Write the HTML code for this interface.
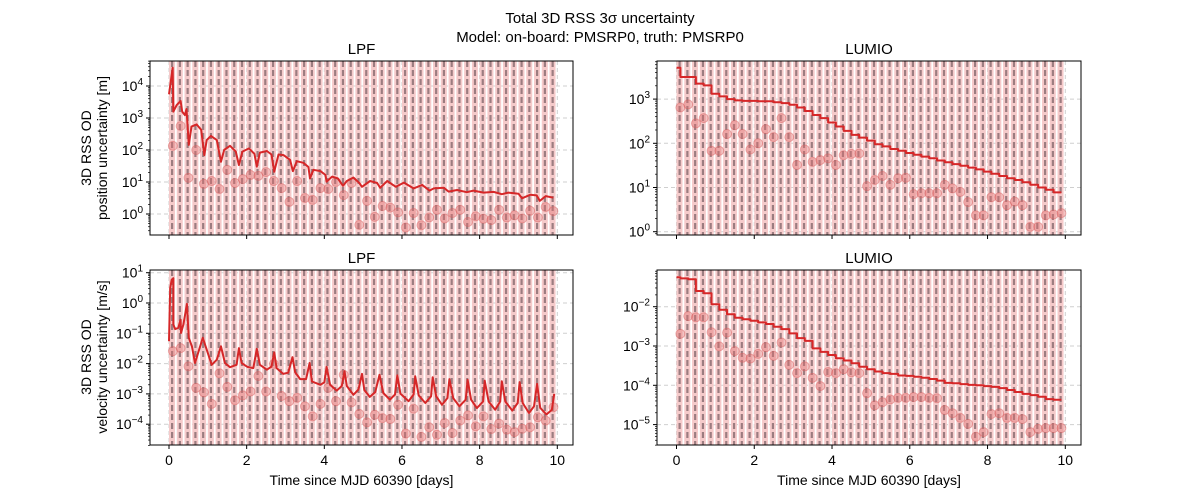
<!DOCTYPE html>
<html><head><meta charset="utf-8">
<style>
body{margin:0;background:#fff;}
svg{display:block;font-family:"Liberation Sans","DejaVu Sans",sans-serif;}
</style></head>
<body>
<svg id="fig" width="1200" height="500" xmlns="http://www.w3.org/2000/svg">
<text x="600" y="23" text-anchor="middle" font-size="15">Total 3D RSS 3σ uncertainty</text>
<text x="600" y="42" text-anchor="middle" font-size="15">Model: on-board: PMSRP0, truth: PMSRP0</text>
</svg>
<script>
// ---- data (log10 values) ----
const dotTimes = [0.1,0.3,0.5,0.7,0.9,1.1,1.3,1.5,1.7,1.9,2.1,2.3,2.5,2.7,2.9,3.1,3.3,3.5,3.7,3.9,4.1,4.3,4.5,4.7,4.9,5.1,5.3,5.5,5.7,5.9,6.1,6.3,6.5,6.7,6.9,7.1,7.3,7.5,7.7,7.9,8.1,8.3,8.5,8.7,8.9,9.1,9.3,9.5,9.7,9.9];
const lpfPosDots = [2.13,2.75,1.13,2.0,0.94,1.03,0.78,1.38,0.97,1.09,1.22,1.19,1.31,1.03,0.81,0.38,1.03,0.5,0.44,0.81,0.78,1.0,0.59,0.97,-0.34,0.41,-0.09,0.25,0.20,0.05,-0.42,0.03,-0.35,-0.11,0.13,-0.14,0.03,0.13,-0.25,-0.07,-0.15,-0.19,0.13,-0.11,-0.04,-0.14,0.10,-0.11,0.22,0.09];
const lumioPosDots = [2.81,2.88,2.45,2.57,1.83,1.83,2.21,2.41,2.21,1.86,2.0,2.32,2.14,2.57,2.14,1.51,1.86,1.58,1.62,1.66,1.51,1.73,1.76,1.77,1.03,1.17,1.26,1.06,1.21,1.22,0.85,0.87,0.87,0.87,1.06,0.98,0.90,0.67,0.37,0.37,0.78,0.78,0.60,0.68,0.60,0.11,0.11,0.37,0.39,0.42];
const lpfVelDots = [-1.59,-1.49,-2.09,-2.80,-2.95,-3.33,-2.32,-2.77,-3.21,-3.05,-2.92,-2.41,-2.92,-2.01,-3.07,-3.24,-3.13,-3.41,-3.74,-3.33,-2.80,-3.24,-2.37,-3.28,-3.66,-3.94,-3.69,-3.80,-3.83,-3.36,-4.31,-3.49,-4.42,-4.10,-4.35,-3.96,-4.29,-3.88,-3.71,-4.07,-3.74,-4.16,-3.98,-4.18,-4.26,-4.15,-4.10,-3.77,-3.88,-3.44];
const lumioVelDots = [-2.69,-2.24,-2.27,-2.27,-2.65,-3.01,-2.66,-3.13,-3.30,-3.32,-3.20,-3.03,-3.25,-2.91,-3.48,-3.69,-3.52,-3.81,-4.02,-3.66,-3.69,-3.59,-3.67,-3.69,-4.20,-4.51,-4.43,-4.36,-4.32,-4.32,-4.30,-4.30,-4.32,-4.33,-4.63,-4.71,-4.83,-4.98,-5.31,-5.19,-4.73,-4.71,-4.83,-4.83,-4.86,-5.19,-5.11,-5.09,-5.09,-5.09];

const lpfPosLineT = [0,0.095,0.11,0.2,0.3,0.34,0.41,0.45,0.51,0.58,0.71,0.83,0.91,0.97,1.08,1.23,1.34,1.42,1.57,1.72,1.80,1.89,2.06,2.2,2.26,2.34,2.52,2.64,2.71,2.82,2.95,3.12,3.19,3.29,3.46,3.59,3.63,3.72,3.9,4.03,4.06,4.2,4.35,4.48,4.58,4.75,4.9,4.97,5.18,5.36,5.44,5.62,5.84,6.05,6.3,6.52,6.71,6.82,7.08,7.2,7.42,7.67,7.84,8.1,8.36,8.57,8.74,9.0,9.09,9.3,9.47,9.55,9.7,9.9];
const lpfPosLineV = [3.74,4.57,3.2,3.41,3.53,3.2,3.09,3.28,2.16,2.73,2.8,2.63,1.84,2.31,2.44,2.31,1.63,2.0,2.13,1.95,1.53,1.95,2.05,1.88,1.48,1.92,1.97,1.86,1.32,1.86,1.84,1.69,1.34,1.65,1.6,1.47,1.11,1.38,1.34,1.22,1.01,1.17,1.11,0.88,1.03,1.14,0.97,0.85,1.03,0.97,0.82,1.03,0.85,0.98,0.80,0.91,0.73,0.80,0.82,0.70,0.75,0.68,0.73,0.67,0.69,0.62,0.67,0.63,0.49,0.60,0.58,0.41,0.56,0.51];

const lpfVelLineT = [0,0.03,0.07,0.11,0.11,0.16,0.24,0.30,0.31,0.37,0.46,0.51,0.59,0.67,0.87,1.1,1.23,1.34,1.44,1.57,1.74,1.80,1.87,2.02,2.17,2.26,2.34,2.52,2.64,2.71,2.77,2.94,3.07,3.18,3.25,3.38,3.53,3.62,3.68,3.90,4.0,4.06,4.15,4.32,4.45,4.52,4.58,4.75,4.88,4.97,5.03,5.17,5.31,5.42,5.52,5.69,5.82,5.88,5.96,6.17,6.30,6.34,6.43,6.6,6.75,6.79,6.88,7.03,7.17,7.22,7.32,7.48,7.64,7.69,7.78,7.93,8.09,8.13,8.23,8.40,8.53,8.57,8.66,8.84,8.98,9.03,9.11,9.27,9.40,9.48,9.56,9.72,9.86,9.92];
const lpfVelLineV = [-1.26,0.5,0.77,0.82,-0.71,-0.86,-0.82,-0.55,-0.99,-0.71,-0.03,-1.15,-1.43,-1.98,-1.15,-2.04,-1.87,-1.43,-1.98,-2.12,-2.04,-1.49,-1.98,-2.11,-2.15,-1.51,-2.04,-2.20,-2.10,-1.63,-2.15,-2.34,-2.30,-1.79,-2.29,-2.51,-2.51,-1.98,-2.59,-2.70,-2.62,-2.11,-2.70,-2.89,-2.74,-2.25,-2.74,-3.03,-2.85,-2.34,-2.87,-3.10,-2.94,-2.37,-2.97,-3.19,-3.02,-2.39,-2.99,-3.24,-3.02,-2.42,-3.05,-3.30,-3.08,-2.45,-3.08,-3.36,-3.14,-2.51,-3.14,-3.41,-3.19,-2.53,-3.19,-3.47,-3.25,-2.56,-3.25,-3.52,-3.25,-2.58,-3.25,-3.55,-3.30,-2.61,-3.30,-3.63,-3.41,-2.67,-3.46,-3.68,-3.52,-3.0];

const stepStarts = [0,0.1,0.3,0.5,0.7,0.9,1.1,1.3,1.5,1.7,1.9,2.1,2.3,2.5,2.7,2.9,3.1,3.3,3.5,3.7,3.9,4.1,4.3,4.5,4.7,4.9,5.1,5.3,5.5,5.7,5.9,6.1,6.3,6.5,6.7,6.9,7.1,7.3,7.5,7.7,7.9,8.1,8.3,8.5,8.7,8.9,9.1,9.3,9.5,9.7,9.9];
const lumioPosLineV = [3.71,3.50,3.50,3.35,3.31,3.12,3.06,3.00,2.97,2.96,2.96,2.95,2.95,2.93,2.91,2.87,2.81,2.73,2.64,2.57,2.47,2.38,2.28,2.19,2.13,2.06,1.98,1.93,1.87,1.83,1.78,1.74,1.70,1.66,1.61,1.57,1.53,1.49,1.45,1.41,1.36,1.31,1.26,1.21,1.17,1.12,1.06,1.00,0.95,0.89];
const lumioVelLineV = [-1.25,-1.28,-1.30,-1.60,-1.66,-1.94,-2.08,-2.19,-2.28,-2.32,-2.36,-2.40,-2.44,-2.51,-2.57,-2.68,-2.80,-2.87,-3.06,-3.15,-3.23,-3.31,-3.37,-3.44,-3.53,-3.59,-3.65,-3.69,-3.71,-3.75,-3.76,-3.78,-3.81,-3.84,-3.88,-3.94,-3.95,-3.97,-3.99,-4.00,-4.02,-4.04,-4.07,-4.12,-4.17,-4.22,-4.25,-4.29,-4.35,-4.37];
const xTicks = [0,2,4,6,8,10];

// ---- drawing ----
const NS="http://www.w3.org/2000/svg";
const svg=document.getElementById('fig');
function mk(tag,attrs,parent){const e=document.createElementNS(NS,tag);for(const k in attrs)e.setAttribute(k,attrs[k]);(parent||svg).appendChild(e);return e;}

const panels=[
 {id:'lpf-position',title:'LPF',L:150,R:573,T:61,B:235,x0:169,sx:38.83,y0:214,dec:32,vmin:-0.66,vmax:4.78,ticks:[0,1,2,3,4],xl:false,dots:lpfPosDots,lt:lpfPosLineT,lv:lpfPosLineV,step:false},
 {id:'lumio-position',title:'LUMIO',L:657,R:1081,T:61,B:235,x0:676.5,sx:38.88,y0:231.7,dec:44.2,vmin:-0.08,vmax:3.86,ticks:[0,1,2,3],xl:false,dots:lumioPosDots,lt:stepStarts,lv:lumioPosLineV,step:true},
 {id:'lpf-velocity',title:'LPF',L:150,R:573,T:270,B:445,x0:169,sx:38.83,y0:303,dec:30.3,vmin:-4.7,vmax:1.1,ticks:[-4,-3,-2,-1,0,1],xl:true,dots:lpfVelDots,lt:lpfVelLineT,lv:lpfVelLineV,step:false},
 {id:'lumio-velocity',title:'LUMIO',L:657,R:1081,T:270,B:445,x0:676.5,sx:38.88,y0:228.1,dec:39.3,vmin:-5.53,vmax:-1.07,ticks:[-5,-4,-3,-2],xl:true,dots:lumioVelDots,lt:stepStarts,lv:lumioVelLineV,step:true}
];

panels.forEach(p=>{
 const X=t=>p.x0+t*p.sx, Y=v=>p.y0-v*p.dec;
 const g=mk('g',{});
 
 
 const cp=mk('clipPath',{id:'c-'+p.id},g);
 mk('rect',{x:p.L,y:p.T,width:p.R-p.L,height:p.B-p.T},cp);
 const inner=mk('g',{'clip-path':'url(#c-'+p.id+')'},g);
 p.ticks.forEach(v=>{const l=mk('line',{x1:p.L,x2:p.R,y1:Y(v),y2:Y(v),stroke:'#cfcfcf','stroke-width':1,'stroke-dasharray':'4,3'},inner);
  
  });
 xTicks.forEach(t=>{const l=mk('line',{x1:X(t),x2:X(t),y1:p.T,y2:p.B,stroke:'#cfcfcf','stroke-width':1,'stroke-dasharray':'4,3'},inner);
  
  });
 for(let k=0;k<50;k++){
  const s=0.2*k;
  const r=mk('rect',{x:X(s),y:p.T,width:0.155*p.sx,height:p.B-p.T,fill:'#f5caca'},inner);
  
  
  const d=mk('line',{x1:X(s+0.08),x2:X(s+0.08),y1:p.T,y2:p.B,stroke:'#9c7c80','stroke-width':2.2,'stroke-dasharray':'6,3'},inner);
  
  
 }
 p.dots.forEach((v,i)=>{const c=mk('circle',{cx:X(dotTimes[i]),cy:Y(v),r:4.5,fill:'rgba(225,110,110,0.4)',stroke:'rgba(215,90,90,0.45)','stroke-width':1},inner);
  
  });
 let pts=[];
 if(p.step){for(let i=0;i<p.lv.length;i++){pts.push([X(p.lt[i]),Y(p.lv[i])]);pts.push([X(p.lt[i+1]),Y(p.lv[i])]);}}
 else{for(let i=0;i<p.lv.length;i++)pts.push([X(p.lt[i]),Y(p.lv[i])]);}
 const pl=mk('polyline',{points:pts.map(a=>a[0].toFixed(1)+','+a[1].toFixed(1)).join(' '),fill:'none',stroke:'#d62728','stroke-width':2,'stroke-linejoin':'round'},inner);
 
 
 const fr=mk('rect',{x:p.L,y:p.T,width:p.R-p.L,height:p.B-p.T,fill:'none',stroke:'#000','stroke-width':1},g);
 
 
 const tt=mk('text',{x:(p.L+p.R)/2,y:p.T-7,'text-anchor':'middle','font-size':15},g);
 tt.textContent=p.title;
 
 
 xTicks.forEach(t=>{mk('line',{x1:X(t),x2:X(t),y1:p.B,y2:p.B+4,stroke:'#000'},g);
  if(p.xl){const tx=mk('text',{x:X(t),y:p.B+20,'text-anchor':'middle','font-size':14},g);tx.textContent=t;
   
   }});
 if(p.xl){const xl=mk('text',{x:(p.L+p.R)/2,y:p.B+40,'text-anchor':'middle','font-size':14},g);xl.textContent='Time since MJD 60390 [days]';
  
  }
 for(let d=Math.floor(p.vmin);d<=Math.ceil(p.vmax);d++){
  for(let m=1;m<10;m++){const v=d+Math.log10(m);if(v<p.vmin||v>p.vmax)continue;
   mk('line',{x1:p.L-(m==1?4:2),x2:p.L,y1:Y(v),y2:Y(v),stroke:'#000','stroke-width':m==1?1:0.7},g);}
 }
 p.ticks.forEach(v=>{const tx=mk('text',{x:p.L-7,y:Y(v)+5,'text-anchor':'end','font-size':14},g);
  tx.appendChild(document.createTextNode('10'));
  const ts=mk('tspan',{dy:-6,'font-size':10},tx);ts.textContent=v<0?'−'+(-v):String(v);
  
  });
});
[[148,'position uncertainty [m]'],[357,'velocity uncertainty [m/s]']].forEach(([cy,s])=>{
 const t=mk('text',{transform:'translate(91,'+cy+') rotate(-90)','text-anchor':'middle','font-size':14});
 
 
 mk('tspan',{x:0,dy:0},t).textContent='3D RSS OD';
 mk('tspan',{x:0,dy:16},t).textContent=s;
});
</script>
</body></html>
